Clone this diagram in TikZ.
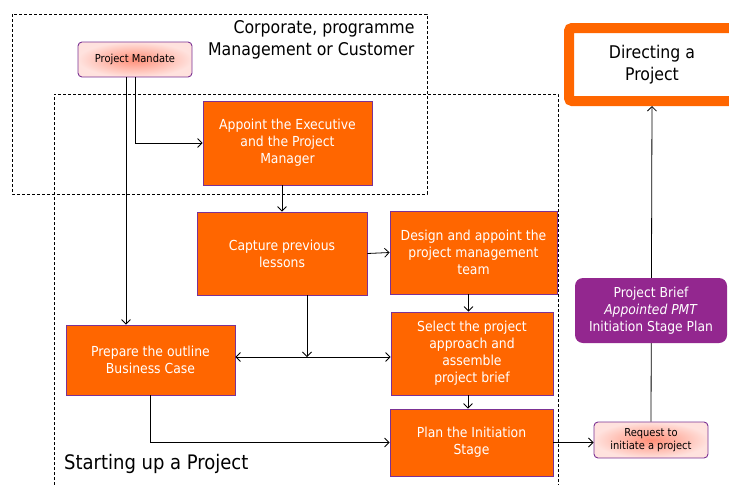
\documentclass[tikz,border=0pt]{standalone}
\usepackage{fontspec}
\setmainfont{DejaVu Sans Condensed}
\usetikzlibrary{arrows.meta}
\definecolor{orng}{HTML}{FF6600}
\definecolor{purp}{HTML}{7B3294}
\definecolor{brief}{HTML}{93278F}
\definecolor{salmon}{HTML}{FF8F78}
\definecolor{blush}{HTML}{FFE2DE}
\tikzset{
  box/.style={draw=purp, line width=0.8pt, fill=orng, text=white, align=center,
    font=\fontsize{13.8}{17}\selectfont, inner sep=2pt},
  doc/.style={draw=purp, line width=0.9pt, rounded corners=4pt, inner color=salmon,
    outer color=blush, align=center, font=\fontsize{11}{13.5}\selectfont},
  conn/.style={line width=0.8pt, -{Straight Barb[length=4.5pt,width=9pt]}},
  conn2/.style={line width=0.8pt, {Straight Barb[length=4.5pt,width=9pt]}-{Straight Barb[length=4.5pt,width=9pt]}},
  area/.style={line width=0.8pt, dash pattern=on 3pt off 2pt},
  lbl/.style={font=\fontsize{17.5}{22}\selectfont}
}
\begin{document}
\begin{tikzpicture}[x=1pt,y=-1pt]
\useasboundingbox (0,0) rectangle (729,485);
% areas
\draw[area] (12,14) rectangle (427,194);
\draw[area] (54,485) -- (54,94) -- (558,94) -- (558,485);
\node[lbl, anchor=north east, align=right] (corp) at (418,17) {Corporate, programme\\Management or Customer};
\node[lbl, font=\fontsize{20}{24}\selectfont, anchor=base west, inner sep=0pt] (start) at (64,469) {Starting up a Project};
% nodes
\node[doc, minimum width=114pt, minimum height=35pt] (mandate) at (135,59.5) {Project Mandate};
\node[box, minimum width=169pt, minimum height=84pt] (appoint) at (287.5,143) {Appoint the Executive\\and the Project\\Manager};
\node[box, minimum width=170pt, minimum height=83pt] (capture) at (282,253.5) {Capture previous\\lessons};
\node[box, minimum width=167pt, minimum height=83pt] (design) at (473.5,252.5) {Design and appoint the\\project management\\team};
\node[box, minimum width=162pt, minimum height=83pt] (select) at (472,353.5) {Select the project\\approach and\\assemble\\project brief};
\node[box, minimum width=163pt, minimum height=67pt] (plan) at (471.5,442.5) {Plan the Initiation\\Stage};
\node[box, minimum width=169pt, minimum height=70pt] (prepare) at (150.5,360) {Prepare the outline\\Business Case};
\node[doc, minimum width=114pt, minimum height=36pt] (request) at (651,440) {Request to\\initiate a project};
\node[draw=orng, line width=10pt, rounded corners=3pt, fill=white, minimum width=166pt, minimum height=73pt,
  align=center, font=\fontsize{17.5}{22}\selectfont] (direct) at (652,64.5) {Directing a\\Project};
% connectors
\coordinate (j) at (307,357);
\draw[conn] (mandate.south) |- (appoint.west);
\draw[conn] ([xshift=-9pt]mandate.south) -- ([xshift=-9pt]mandate.south |- prepare.north);
\draw[conn] (capture.north |- appoint.south) -- (capture.north);
\draw[conn] (capture.east) -- (design.west);
\draw[conn] ([xshift=-5pt]design.south) -- ([xshift=-5pt]design.south |- select.north);
\draw[conn] (capture.south -| j) -- (j);
\draw[conn2] (prepare.east |- j) -- (select.west |- j);
\draw[conn] ([xshift=-4pt]select.south) -- ([xshift=-4pt]select.south |- plan.north);
\draw[conn] (prepare.south) |- (plan.west);
\draw[conn] (plan.east) -- (plan.east -| request.west);
\draw[conn] (request.north) -- (direct.south);
\node[fill=brief, rounded corners=8pt, text=white, align=center, minimum width=152pt, minimum height=65pt,
  font=\fontsize{13.7}{17}\selectfont] (brief) at (651,310.5) {Project Brief\\\textit{Appointed PMT}\\Initiation Stage Plan};
\end{tikzpicture}
\end{document}
